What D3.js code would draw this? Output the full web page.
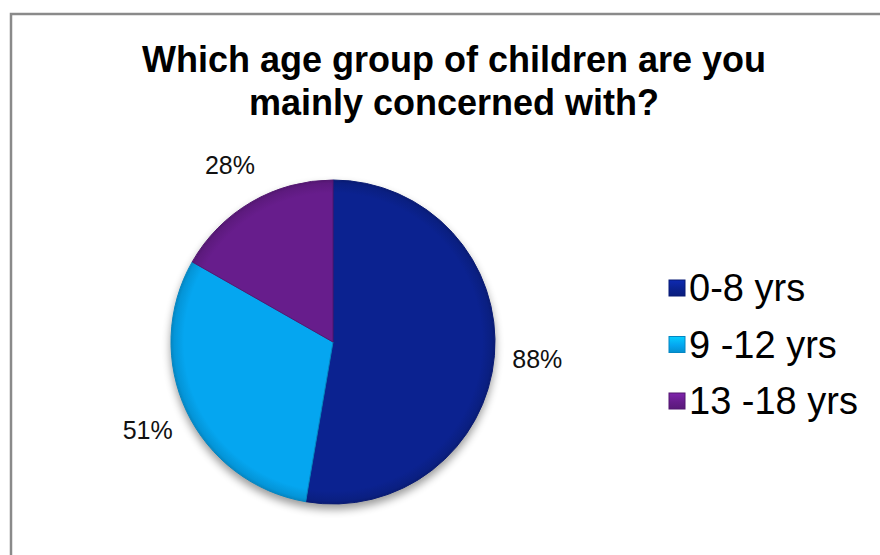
<!DOCTYPE html>
<html>
<head>
<meta charset="utf-8">
<script src="https://cdn.jsdelivr.net/npm/d3@7"></script>
<style>
  html, body { margin: 0; padding: 0; background: #fff; }
  svg { display: block; font-family: "Liberation Sans", Arial, sans-serif; }
</style>
</head>
<body>
<svg id="chart" width="880" height="555"></svg>
<script>
// Survey: which age group of children respondents mainly work with
const titleLines = ["Which age group of children are you", "mainly concerned with?"];
const categories = ["0-8 yrs", "9 -12 yrs", "13 -18 yrs"];
const values = [88, 51, 28];
const valueLabels = ["88%", "51%", "28%"];
const colors = ["#0b2290", "#05a6f0", "#671d8c"];

const svg = d3.select("#chart");
const W = 880, H = 555;
const cx = 333, cy = 342, r = 162;

// frame of the chart area (runs off the right and bottom edges)
svg.append("rect")
  .attr("x", 11).attr("y", 14)
  .attr("width", W + 20).attr("height", H + 20)
  .attr("fill", "#fff")
  .attr("stroke", "#8a8a8a")
  .attr("stroke-width", 2.5);

// title
svg.append("text")
  .attr("x", 454).attr("y", 72)
  .attr("text-anchor", "middle")
  .attr("font-size", 36).attr("font-weight", "bold")
  .attr("fill", "#000")
  .selectAll("tspan").data(titleLines).join("tspan")
  .attr("x", 454)
  .attr("dy", (d, i) => i === 0 ? 0 : 43)
  .text(d => d);

const defs = svg.append("defs");

// soft shadow below the pie
const shadow = defs.append("filter").attr("id", "shadow")
  .attr("x", "-20%").attr("y", "-20%").attr("width", "140%").attr("height", "140%")
  .attr("color-interpolation-filters", "sRGB");
shadow.append("feGaussianBlur").attr("in", "SourceAlpha").attr("stdDeviation", 4).attr("result", "b");
shadow.append("feOffset").attr("in", "b").attr("dx", 0).attr("dy", 5).attr("result", "o");
shadow.append("feComponentTransfer").attr("in", "o").attr("result", "s")
  .append("feFuncA").attr("type", "linear").attr("slope", 0.4);
const merge = shadow.append("feMerge");
merge.append("feMergeNode").attr("in", "s");
merge.append("feMergeNode").attr("in", "SourceGraphic");

// bevel gradient per slice colour: flat centre, darker rim
colors.forEach((c, i) => {
  const g = defs.append("radialGradient").attr("id", "grad" + i)
    .attr("gradientUnits", "userSpaceOnUse")
    .attr("cx", 0).attr("cy", 0).attr("r", r);
  const base = d3.color(c);
  g.append("stop").attr("offset", "0%").attr("stop-color", base.formatHex());
  g.append("stop").attr("offset", "92%").attr("stop-color", base.formatHex());
  g.append("stop").attr("offset", "98%").attr("stop-color", base.darker(0.3).formatHex());
  g.append("stop").attr("offset", "100%").attr("stop-color", base.darker(0.6).formatHex());
});

const pie = d3.pie().sort(null).value(d => d)(values);
const arc = d3.arc().innerRadius(0).outerRadius(r);

const pieG = svg.append("g")
  .attr("transform", `translate(${cx},${cy})`);

pieG.append("g").attr("filter", "url(#shadow)")
  .selectAll("path").data(pie).join("path")
  .attr("d", arc)
  .attr("fill", (d, i) => `url(#grad${i})`)
  .attr("stroke", (d, i) => d3.color(colors[i]).darker(0.6))
  .attr("stroke-width", 1)
  .attr("stroke-linejoin", "round");

// percentage labels outside each slice
const labelR = r + 43;
pieG.selectAll("text.val").data(pie).join("text")
  .attr("class", "val")
  .attr("x", d => Math.sin((d.startAngle + d.endAngle) / 2) * labelR)
  .attr("y", d => -Math.cos((d.startAngle + d.endAngle) / 2) * labelR + 9)
  .attr("text-anchor", "middle")
  .attr("font-size", 25)
  .attr("fill", "#111")
  .text((d, i) => valueLabels[i]);

// legend
const legend = svg.append("g").attr("transform", "translate(669,288)");
const rowH = 56.5, sq = 16;
colors.forEach((c, i) => {
  const g = defs.append("linearGradient").attr("id", "lg" + i)
    .attr("x1", 0).attr("y1", 0).attr("x2", 0).attr("y2", 1);
  g.append("stop").attr("offset", "0%").attr("stop-color", d3.color(c).brighter(0.6).formatHex());
  g.append("stop").attr("offset", "55%").attr("stop-color", c);
  g.append("stop").attr("offset", "100%").attr("stop-color", d3.color(c).darker(0.4).formatHex());
});
const items = legend.selectAll("g").data(categories).join("g")
  .attr("transform", (d, i) => `translate(0,${i * rowH})`);
items.append("rect")
  .attr("x", 0).attr("y", -sq / 2)
  .attr("width", sq).attr("height", sq)
  .attr("fill", (d, i) => `url(#lg${i})`)
  .attr("stroke", (d, i) => d3.color(colors[i]).darker(0.6))
  .attr("stroke-width", 1);
items.append("text")
  .attr("x", 20).attr("y", 13)
  .attr("font-size", 38)
  .attr("fill", "#000")
  .text(d => d);
</script>
</body>
</html>
